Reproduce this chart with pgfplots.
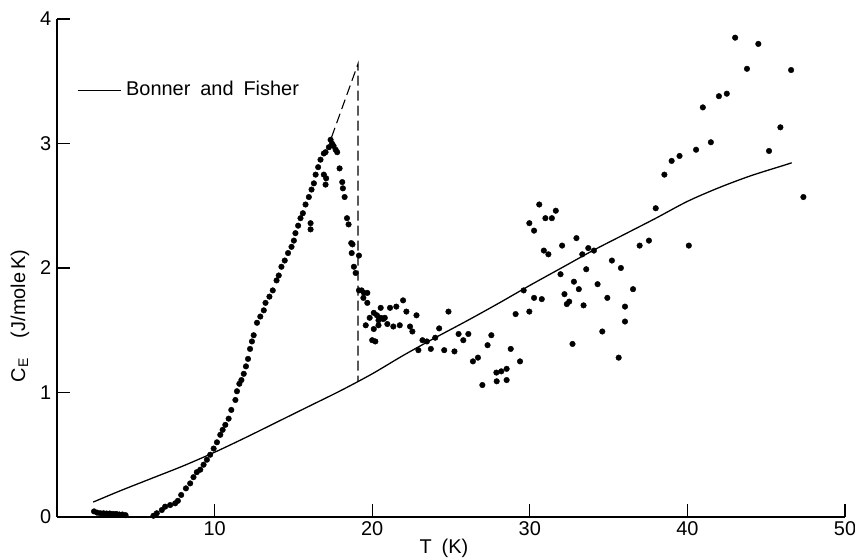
\documentclass[border=0pt]{standalone}
\usepackage{fontspec}
\setmainfont{Liberation Sans}
\usepackage{pgfplots}
\pgfplotsset{compat=1.18}

\pgfplotstableread{
T C
2.35 0.045
2.55 0.035
2.75 0.03
2.95 0.03
3.15 0.028
3.35 0.028
3.55 0.025
3.75 0.025
3.95 0.02
4.15 0.02
4.35 0.015
6.12 0.01
6.33 0.03
6.65 0.056
6.86 0.083
7.18 0.096
7.5 0.11
7.67 0.13
7.88 0.177
8.18 0.23
8.45 0.27
8.66 0.32
8.87 0.36
9.09 0.38
9.3 0.42
9.51 0.46
9.72 0.50
9.94 0.55
10.15 0.60
10.36 0.66
10.51 0.70
10.68 0.74
10.89 0.79
11.06 0.86
11.32 0.94
11.42 1.01
11.57 1.07
11.7 1.10
11.85 1.15
11.99 1.21
12.12 1.27
12.25 1.35
12.37 1.41
12.48 1.46
12.69 1.56
12.9 1.61
13.12 1.66
13.23 1.72
13.48 1.77
13.69 1.82
13.93 1.90
14.07 1.94
14.24 2.01
14.45 2.06
14.66 2.12
14.88 2.17
15.03 2.22
15.13 2.28
15.3 2.34
15.45 2.40
15.6 2.44
15.77 2.51
15.98 2.57
16.15 2.63
16.3 2.68
16.41 2.75
16.57 2.81
16.72 2.87
16.93 2.92
17.04 2.93
17.25 2.97
17.36 3.03
17.45 3.00
17.55 2.98
17.68 2.95
17.78 2.93
16.09 2.36
16.09 2.31
16.93 2.75
17.04 2.67
17.08 2.72
17.93 2.80
18.1 2.69
18.14 2.64
18.25 2.57
18.4 2.40
18.5 2.35
18.67 2.20
18.75 2.19
18.7 2.12
19.16 2.10
18.84 2.01
18.95 1.96
19.16 1.82
19.33 1.82
19.48 1.80
19.69 1.80
19.44 1.76
19.69 1.72
19.84 1.60
20.1 1.64
20.3 1.62
19.59 1.54
20.4 1.58
20.55 1.60
20.7 1.59
20.8 1.60
20.54 1.68
21.13 1.68
21.53 1.69
21.96 1.74
22.17 1.65
22.81 1.62
20.96 1.55
21.34 1.53
21.75 1.54
22.4 1.53
22.55 1.49
20.1 1.51
20.0 1.42
20.2 1.41
20.4 1.54
22.93 1.34
23.19 1.42
23.47 1.41
23.72 1.35
24.0 1.44
24.25 1.515
24.84 1.65
24.57 1.34
25.22 1.33
25.48 1.47
25.78 1.42
26.1 1.47
26.39 1.25
26.71 1.28
26.99 1.06
27.32 1.38
27.56 1.46
27.88 1.16
28.19 1.17
27.9 1.09
28.53 1.19
28.53 1.10
28.79 1.35
29.1 1.63
29.38 1.25
29.61 1.82
29.97 1.65
29.97 2.36
30.27 2.30
30.27 1.76
30.6 2.51
30.76 1.75
30.89 2.14
30.99 2.40
31.18 2.11
31.4 2.40
31.65 2.46
31.95 1.95
32.05 2.18
32.2 1.79
32.35 1.71
32.5 1.73
32.71 1.39
32.8 1.89
32.96 2.24
33.11 1.83
33.33 2.11
33.41 1.70
33.58 1.99
33.71 2.16
34.07 2.14
34.3 1.87
34.6 1.49
34.92 1.76
35.21 2.06
35.64 1.28
35.78 2.00
36.04 1.69
36.04 1.57
36.55 1.83
36.97 2.18
37.56 2.22
37.99 2.48
38.54 2.75
39.0 2.86
39.5 2.90
40.09 2.18
40.55 2.95
40.98 3.29
41.49 3.01
42.0 3.38
42.5 3.40
43.03 3.85
43.78 3.60
44.5 3.80
45.18 2.94
45.9 3.13
46.58 3.59
47.36 2.57
}\measured

\pgfplotstableread{
T C
2.3 0.12
4 0.21
6 0.31
8 0.41
10 0.52
12 0.64
14 0.765
16 0.89
18 1.015
20 1.15
22 1.30
24 1.44
26 1.575
28 1.715
30 1.86
32 2.00
34 2.14
36 2.27
38 2.40
40 2.535
42 2.645
44 2.74
46 2.82
46.62 2.845
}\bonner

\begin{document}
\fontsize{20}{24}\selectfont
\begin{tikzpicture}
\begin{axis}[
    name=ax,
    scale only axis,
    width=788bp, height=498bp,
    xmin=0, xmax=50, ymin=0, ymax=4,
    axis lines=left,
    axis line style={-, line width=1.2bp},
    every outer x axis line/.append style={-},
    every outer y axis line/.append style={-},
    tick align=inside,
    major tick length=13bp,
    tick style={line width=1.1bp, black},
    xtick={10,20,30,40,50},
    ytick={0,1,2,3,4},
    /pgf/number format/assume math mode=true,
    ticklabel style={font=\fontsize{20}{24}\selectfont},
    xticklabel style={yshift=2bp},
    yticklabel style={xshift=1bp},
    xlabel={T\enspace(K)},
    ylabel={C\textsubscript{E}\quad(J/mole\,K)},
    xlabel style={at={(axis description cs:0.491,0)}, anchor=center, yshift=-31bp},
    ylabel style={at={(axis description cs:-0.047,0.404)}, anchor=center},
    legend style={at={(axis description cs:0.025,0.857)}, anchor=west,
        draw=none, fill=none, inner sep=0pt,
        font=\fontsize{20}{24}\selectfont},
    legend image code/.code={\draw[#1] (0bp,0bp) -- (43bp,0bp);},
    clip=false,
]
\addplot[only marks, mark=*, mark size=2.8bp, black, forget plot] table {\measured};
\addplot[black, line width=1.1bp, dash pattern=on 10bp off 5bp, forget plot]
    coordinates {(17.42,3.05) (19.1,3.64) (19.1,1.09)};
\addplot[black, line width=1.3bp, smooth] table {\bonner};
\addlegendentry{\hspace{3bp}Bonner\enspace and\enspace Fisher}
\end{axis}
\pgfresetboundingbox
\path ([shift={(-57bp,-41bp)}]ax.south west) rectangle ([shift={(10bp,19bp)}]ax.north east);
\end{tikzpicture}
\end{document}
